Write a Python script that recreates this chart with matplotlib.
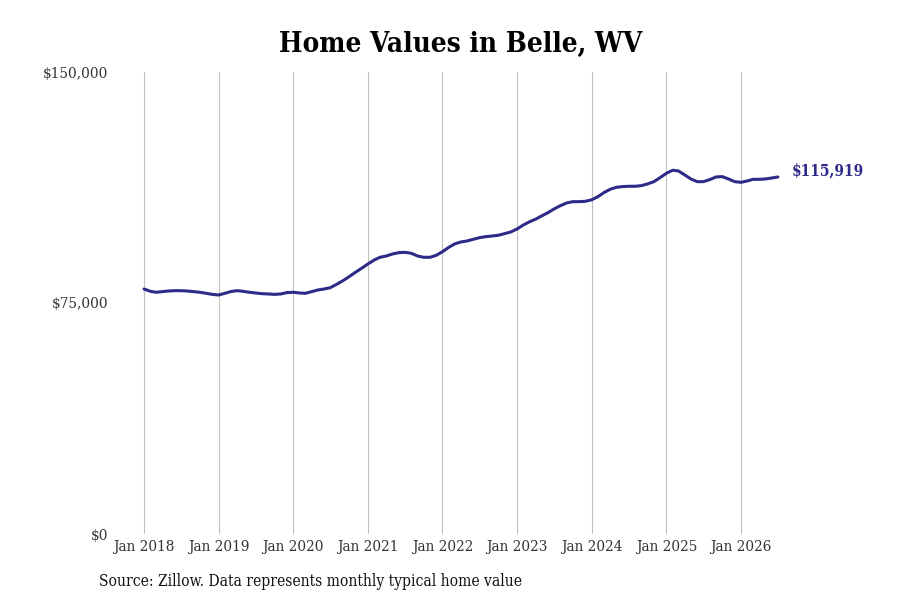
import matplotlib
matplotlib.use("Agg")
import matplotlib.pyplot as plt
import matplotlib.dates as mdates
import numpy as np
import pandas as pd

dates = pd.date_range("2018-01-01", "2026-07-01", freq="MS")
values = [
    79550, 78800, 78480, 78700, 78900, 79000, 79000, 78900, 78700, 78480, 78150, 77800,
    77600, 78150, 78700, 79000, 78800, 78480, 78250, 78030, 77930, 77800, 77930, 78370,
    78480, 78250, 78150, 78700, 79230, 79550, 79980, 81080, 82250, 83550, 84970, 86270,
    87670, 88970, 89840, 90260, 90910, 91340, 91450, 91150, 90260, 89840, 89840, 90480,
    91660, 93090, 94160, 94810, 95140, 95690, 96210, 96540, 96760, 96980, 97520, 98060,
    99040, 100330, 101310, 102180, 103260, 104320, 105530, 106600, 107480, 107900, 107900, 108020,
    108500, 109530, 110830, 111920, 112570, 112790, 112900, 112900, 113110, 113660, 114400, 115700,
    117120, 118100, 117880, 116570, 115270, 114400, 114400, 115050, 115920, 116030, 115270, 114400,
    114180, 114620, 115160, 115160, 115270, 115590, 115919,
]
year_ticks = pd.date_range("2018-01-01", "2026-01-01", freq="YS")
y_ticks = [0, 75000, 150000]
y_labels = ["$0", "$75,000", "$150,000"]
title = "Home Values in Belle, WV"
source = "Source: Zillow. Data represents monthly typical home value"
last_label = "$115,919"

plt.rcParams["font.family"] = ["DejaVu Serif"]
plt.rcParams["font.stretch"] = "condensed"

line_color = "#2e2a88"
fig = plt.figure(figsize=(9, 6), dpi=100)
ax = fig.add_axes([115 / 900, 1 - 534 / 600, 675 / 900, 462 / 600])

ax.plot(dates, values, color=line_color, linewidth=2.2, solid_capstyle="round")

x0 = pd.Timestamp("2018-01-01")
ax.set_xlim(x0 - pd.Timedelta(days=142), x0 + pd.Timedelta(days=3162))
ax.set_ylim(0, 150000)

ax.set_xticks(year_ticks)
ax.set_xticklabels([d.strftime("Jan %Y") for d in year_ticks], fontsize=11, color="#333333")
ax.set_yticks(y_ticks)
ax.set_yticklabels(y_labels, fontsize=11, color="#333333")
ax.tick_params(axis="both", length=0)
ax.tick_params(axis="y", pad=5)
ax.tick_params(axis="x", pad=4)
ax.grid(axis="x", color="#c0c0c0", linewidth=0.8)
ax.grid(axis="y", visible=False)
for s in ax.spines.values():
    s.set_visible(False)

ax.annotate(last_label, xy=(dates[-1], values[-1]), xytext=(9.7, 4.3), textcoords="offset points",
            color=line_color, fontsize=11.2, fontweight="bold", va="center", ha="left")

fig.text(461 / 900, 1 - 44 / 600, title, ha="center", va="center", fontsize=20, fontweight="bold")
fig.text(99 / 900, 1 - 582 / 600, source, ha="left", va="center", fontsize=11.2, color="#111111")

fig.savefig("out.png", dpi=100)
